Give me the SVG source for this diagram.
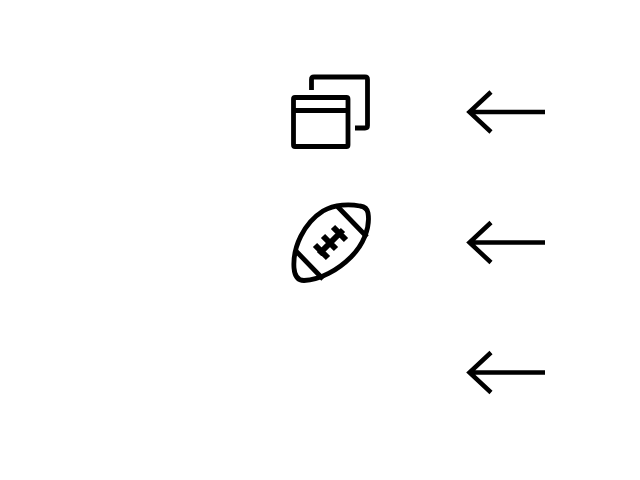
<svg xmlns="http://www.w3.org/2000/svg" width="640" height="480" viewBox="0 0 640 480">
<style>
.s{fill:none;stroke:#000;stroke-linejoin:round}
.i{stroke-width:4.800}
.l{stroke-width:6;stroke-linecap:butt}
.a{stroke-width:4.500;stroke-linecap:butt;stroke-linejoin:miter}
</style>
<defs>
<filter id="soft" x="-5%" y="-5%" width="110%" height="110%"><feGaussianBlur stdDeviation="0.500"/></filter>
<g id="arrow"><path class="s a" d="M545,0H470M491,-20L469.500,0L491,20"/></g>
</defs>
<rect width="640" height="480" fill="#fff"/>
<g id="node-window" filter="url(#soft)">
<rect class="s i" x="293.500" y="97.500" width="54.500" height="49" rx="1.500"/>
<path class="s i" d="M293.500,110.500H348"/>
<path class="s i" d="M311.500,90V79.500Q311.500,77 314,77H365Q367.500,77 367.500,79.500V125.500Q367.500,128 365,128H355"/>
</g>
<g id="node-football" filter="url(#soft)">
<path class="s i" d="M294,268C292.500,247 304,223 323,211C335,204 350,204 360,206Q367,207 368,213C370.500,228 363,245 351,257C338,270 320,280 304,280.500Q295,280.500 294,268Z"/>
<path class="s i" d="M337,206L367,237M295,250L323,279"/>
<path class="s l" d="M319,254L343,230M315,245L328,258M323,236L336,249M333,227L346,240"/>
</g>
<g id="connectors" filter="url(#soft)">
<use href="#arrow" y="112"/>
<use href="#arrow" y="242.500"/>
<use href="#arrow" y="372.500"/>
</g>
</svg>
